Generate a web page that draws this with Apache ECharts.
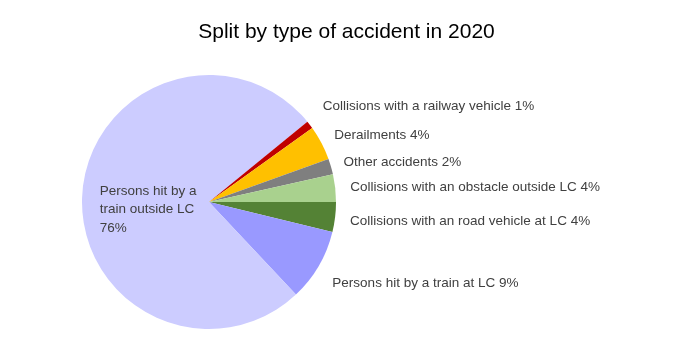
<!DOCTYPE html>
<html>
<head>
<meta charset="utf-8">
<script src="https://cdn.jsdelivr.net/npm/echarts@6/dist/echarts.min.js"></script>
<style>html,body{margin:0;padding:0;background:#fff;}#c{width:693px;height:364px;}</style>
</head>
<body>
<div id="c"></div>
<script>
var categories = [
  "Collisions with an road vehicle at LC",
  "Persons hit by a train at LC",
  "Persons hit by a train outside LC",
  "Collisions with a railway vehicle",
  "Derailments",
  "Other accidents",
  "Collisions with an obstacle outside LC"
];
var values = [3.8, 9.2, 76.1, 1.0, 4.4, 2.0, 3.5];
var colors = ["#548235", "#9999FF", "#CCCCFF", "#C00000", "#FFC000", "#7F7F7F", "#A9D18E"];
var titleText = "Split by type of accident in 2020";

var FONT = "Liberation Sans";
var data = categories.map(function (c, i) {
  var item = { name: c, value: values[i], itemStyle: { color: colors[i] } };
  if (i === 2) {
    item.label = { position: "inside", formatter: function (p) {
      return "Persons hit by a\ntrain outside LC\n" + Math.round(p.percent) + "%";
    }, lineHeight: 18.5 };
  }
  return item;
});

var chart = echarts.init(document.getElementById("c"), null, { renderer: "canvas" });
chart.setOption({
  animation: false,
  backgroundColor: "#fff",
  title: {
    text: titleText, left: "center", top: 17,
    textStyle: { fontFamily: FONT, fontSize: 21, fontWeight: "normal", color: "#000" }
  },
  series: [{
    type: "pie",
    center: [209, 202],
    radius: 127,
    startAngle: 0,
    clockwise: true,
    avoidLabelOverlap: true,
    data: data,
    label: {
      show: true, position: "outside",
      fontFamily: FONT, fontSize: 13.5, color: "#404040",
      distanceToLabelLine: 5,
      formatter: function (p) { return p.name + " " + Math.round(p.percent) + "%"; }
    },
    labelLine: { show: false, length: 10, length2: 0 },
    labelLayout: function (p) {
      if (p.dataIndex === 2) return { align: "left", dx: -43, dy: 12 };
      if (p.dataIndex === 3) return { dy: -12 };
      if (p.dataIndex === 4) return { dy: -3, dx: -1 };
      if (p.dataIndex === 5) return { dy: -1, dx: -2 };
      if (p.dataIndex === 0) return { dy: 3 };
      if (p.dataIndex === 1) return { dy: 12 };
    },
    itemStyle: { borderWidth: 0 },
    emphasis: { disabled: true }
  }]
});
</script>
</body>
</html>
